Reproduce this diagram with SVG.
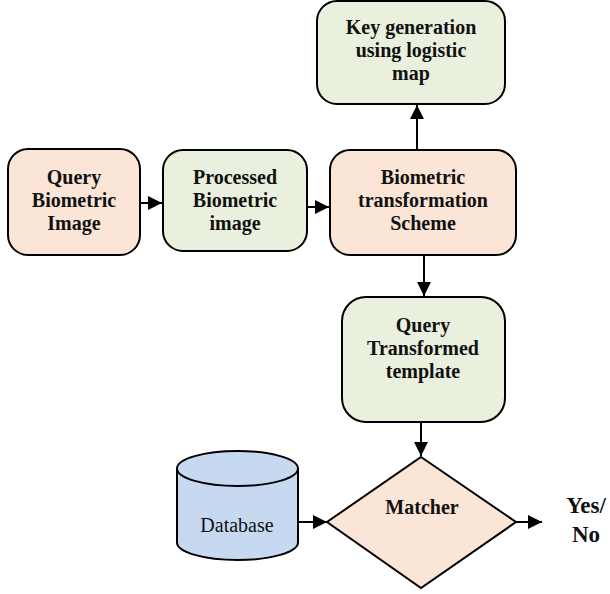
<svg xmlns="http://www.w3.org/2000/svg" width="610" height="594" viewBox="0 0 610 594" font-family="'Liberation Serif', 'Times New Roman', serif">
  <style>
    .box { stroke: #000; stroke-width: 2; }
    .orange { fill: #FBE5D6; }
    .green { fill: #E9F0DD; }
    .blue { fill: #C6D9F1; }
    .lbl { font-weight: bold; font-size: 20px; text-anchor: middle; fill: #111; }
    .reg { font-size: 20px; text-anchor: middle; fill: #111; }
    .big { font-weight: bold; font-size: 23px; text-anchor: middle; fill: #111; }
    .conn { stroke: #000; stroke-width: 2; fill: none; marker-end: url(#arrow); }
  </style>
  <defs>
    <marker id="arrow" viewBox="0 0 10 10" refX="10" refY="5" markerWidth="7" markerHeight="7" markerUnits="strokeWidth" orient="auto">
      <path d="M0,0 L10,5 L0,10 z" fill="#000"/>
    </marker>
  </defs>
  <rect width="610" height="594" fill="#fff"/>

  <g id="query-image">
    <rect class="box orange" x="8" y="149" width="132" height="106" rx="20"/>
    <text class="lbl" x="74" y="184">Query</text>
    <text class="lbl" x="74" y="207">Biometric</text>
    <text class="lbl" x="74" y="230">Image</text>
  </g>

  <g id="processed-image">
    <rect class="box green" x="163" y="150" width="144" height="101" rx="20"/>
    <text class="lbl" x="235" y="184">Processed</text>
    <text class="lbl" x="235" y="207">Biometric</text>
    <text class="lbl" x="235" y="230">image</text>
  </g>

  <g id="transformation-scheme">
    <rect class="box orange" x="330" y="150" width="186" height="105" rx="20"/>
    <text class="lbl" x="423" y="184">Biometric</text>
    <text class="lbl" x="423" y="207">transformation</text>
    <text class="lbl" x="423" y="230">Scheme</text>
  </g>

  <g id="key-generation">
    <rect class="box green" x="317" y="1" width="188" height="103" rx="20"/>
    <text class="lbl" x="411" y="34">Key generation</text>
    <text class="lbl" x="411" y="57">using logistic</text>
    <text class="lbl" x="411" y="80">map</text>
  </g>

  <g id="transformed-template">
    <rect class="box green" x="342" y="297" width="163" height="125" rx="24"/>
    <text class="lbl" x="423" y="332">Query</text>
    <text class="lbl" x="423" y="355">Transformed</text>
    <text class="lbl" x="423" y="378">template</text>
  </g>

  <g id="database">
    <path class="box blue" d="M177,468.5 A60.5,17.5 0 0 1 298,468.5 L298,542.5 A60.5,17.5 0 0 1 177,542.5 Z"/>
    <path class="box" fill="none" d="M177,468.5 A60.5,17.5 0 0 0 298,468.5"/>
    <text class="reg" x="237" y="532">Database</text>
  </g>

  <g id="matcher">
    <polygon class="box orange" points="421,457 516,522 421,588 327,522"/>
    <text class="lbl" x="422" y="514">Matcher</text>
  </g>

  <g id="result">
    <text class="big" x="586" y="513">Yes/</text>
    <text class="big" x="586" y="542">No</text>
  </g>

  <g id="connectors">
    <line class="conn" x1="140" y1="203" x2="162" y2="203"/>
    <line class="conn" x1="307" y1="207" x2="329" y2="207"/>
    <line class="conn" x1="417" y1="150" x2="417" y2="105"/>
    <line class="conn" x1="424" y1="255" x2="424" y2="296"/>
    <line class="conn" x1="421" y1="422" x2="421" y2="456"/>
    <line class="conn" x1="298" y1="522" x2="327" y2="522"/>
    <line class="conn" x1="516" y1="522" x2="542" y2="522"/>
  </g>
</svg>
